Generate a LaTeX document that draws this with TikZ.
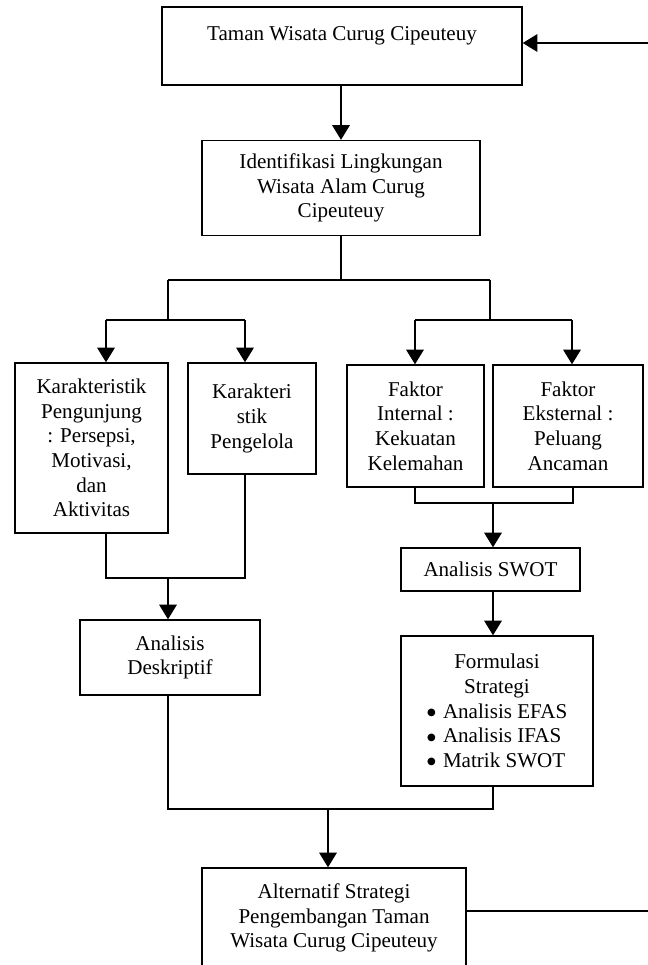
\documentclass[tikz,border=0pt]{standalone}
\usepackage{fontspec}
\setmainfont{Liberation Serif}
\newfontfamily\symfont{DejaVu Sans}
\usetikzlibrary{arrows.meta}
\newcommand{\butir}[1]{\makebox[109pt][l]{\makebox[14pt][l]{\hspace{2pt}\raisebox{2pt}{\symfont\fontsize{7.5}{7.5}\selectfont ●}}#1}}
\begin{document}
\begin{tikzpicture}[x=0.75pt,y=-0.75pt,
    box/.style={draw,line width=1pt,inner sep=0pt,align=center,
      font=\fontsize{15.8}{18.5}\selectfont},
    link/.style={line width=0.9pt},
    arrowline/.style={line width=1.6pt,-{Triangle[length=11pt,width=13pt]}}]
    % Frame of the page
    \useasboundingbox (0,0) rectangle (648,965);
    \clip (0,0) rectangle (648,965);

    % Boxes
    \node[box,minimum width=360*0.75pt,minimum height=78*0.75pt] (taman) at (342,46)
      {Taman Wisata Curug Cipeuteuy\\ \mbox{}};
    \node[box,minimum width=278*0.75pt,minimum height=95*0.75pt] (ident) at (341,188)
      {Identifikasi Lingkungan\\ Wisata Alam Curug\\ Cipeuteuy};
    \node[box,minimum width=153*0.75pt,minimum height=170*0.75pt] (pengunjung) at (91.5,448)
      {Karakteristik\\ Pengunjung\\ : Persepsi,\\ Motivasi,\\ dan\\ Aktivitas};
    \node[box,minimum width=128*0.75pt,minimum height=111*0.75pt] (pengelola) at (252,418.5)
      {Karakteri\\ stik\\ Pengelola};
    \node[box,minimum width=137*0.75pt,minimum height=122*0.75pt] (internal) at (415.5,426)
      {Faktor\\ Internal :\\ Kekuatan\\ Kelemahan};
    \node[box,minimum width=150*0.75pt,minimum height=122*0.75pt] (eksternal) at (568,426)
      {Faktor\\ Eksternal :\\ Peluang\\ Ancaman};
    \node[box,minimum width=179*0.75pt,minimum height=43*0.75pt] (swot) at (490.5,569.5)
      {Analisis SWOT};
    \node[box,minimum width=180*0.75pt,minimum height=75*0.75pt] (deskriptif) at (170,657.5)
      {Analisis\\ Deskriptif};
    \node[box,minimum width=192*0.75pt,minimum height=150*0.75pt] (formulasi) at (497,711)
      {Formulasi\\ Strategi\\ \butir{Analisis EFAS}\\ \butir{Analisis IFAS}\\ \butir{Matrik SWOT}};
    \node[box,minimum width=264*0.75pt,minimum height=100*0.75pt] (alternatif) at (334,918)
      {Alternatif Strategi\\ Pengembangan Taman\\ Wisata Curug Cipeuteuy};

    % Junction points
    \coordinate (split) at (341,280);
    \coordinate (splitL) at (168,320);
    \coordinate (splitR) at (490,320);
    \coordinate (pengunjungIn) at (106,320);
    \coordinate (pengelolaIn) at (245,320);
    \coordinate (internalIn) at (415,320);
    \coordinate (eksternalIn) at (572,320);
    \coordinate (pengunjungOut) at (106,578);
    \coordinate (pengelolaOut) at (245,578);
    \coordinate (deskriptifIn) at (168,578);
    \coordinate (internalOut) at (415,503);
    \coordinate (eksternalOut) at (573,503);
    \coordinate (swotIn) at (493,503);
    \coordinate (deskriptifOut) at (168,809);
    \coordinate (formulasiOut) at (493,809);
    \coordinate (alternatifIn) at (328,809);
    \coordinate (back) at (652,911);
    \coordinate (backTop) at (652,43);

    % Top part
    \draw[arrowline] (taman.south -| ident) -- (ident.north);
    \draw[link] (ident.south) -- (split);
    \draw[link] (splitL |- split) -- (splitR |- split);
    \draw[link] (splitL |- split) -- (splitL);
    \draw[link] (splitR |- split) -- (splitR);

    % Left branch
    \draw[link] (pengunjungIn) -- (pengelolaIn);
    \draw[arrowline] (pengunjungIn) -- (pengunjungIn |- pengunjung.north);
    \draw[arrowline] (pengelolaIn) -- (pengelolaIn |- pengelola.north);
    \draw[link] (pengunjungOut |- pengunjung.south) -- (pengunjungOut) -- (pengelolaOut)
      -- (pengelolaOut |- pengelola.south);
    \draw[arrowline] (deskriptifIn) -- (deskriptifIn |- deskriptif.north);

    % Right branch
    \draw[link] (internalIn) -- (eksternalIn);
    \draw[arrowline] (internalIn) -- (internalIn |- internal.north);
    \draw[arrowline] (eksternalIn) -- (eksternalIn |- eksternal.north);
    \draw[link] (internalOut |- internal.south) -- (internalOut) -- (eksternalOut)
      -- (eksternalOut |- eksternal.south);
    \draw[arrowline] (swotIn) -- (swotIn |- swot.north);
    \draw[arrowline] (swotIn |- swot.south) -- (swotIn |- formulasi.north);

    % Bottom part
    \draw[link] (deskriptifOut |- deskriptif.south) -- (deskriptifOut) -- (formulasiOut)
      -- (formulasiOut |- formulasi.south);
    \draw[arrowline] (alternatifIn) -- (alternatifIn |- alternatif.north);

    % Feedback
    \draw[link] (back -| alternatif.east) -- (back) -- (backTop);
    \draw[arrowline] (backTop) -- (backTop -| taman.east);
\end{tikzpicture}
\end{document}
